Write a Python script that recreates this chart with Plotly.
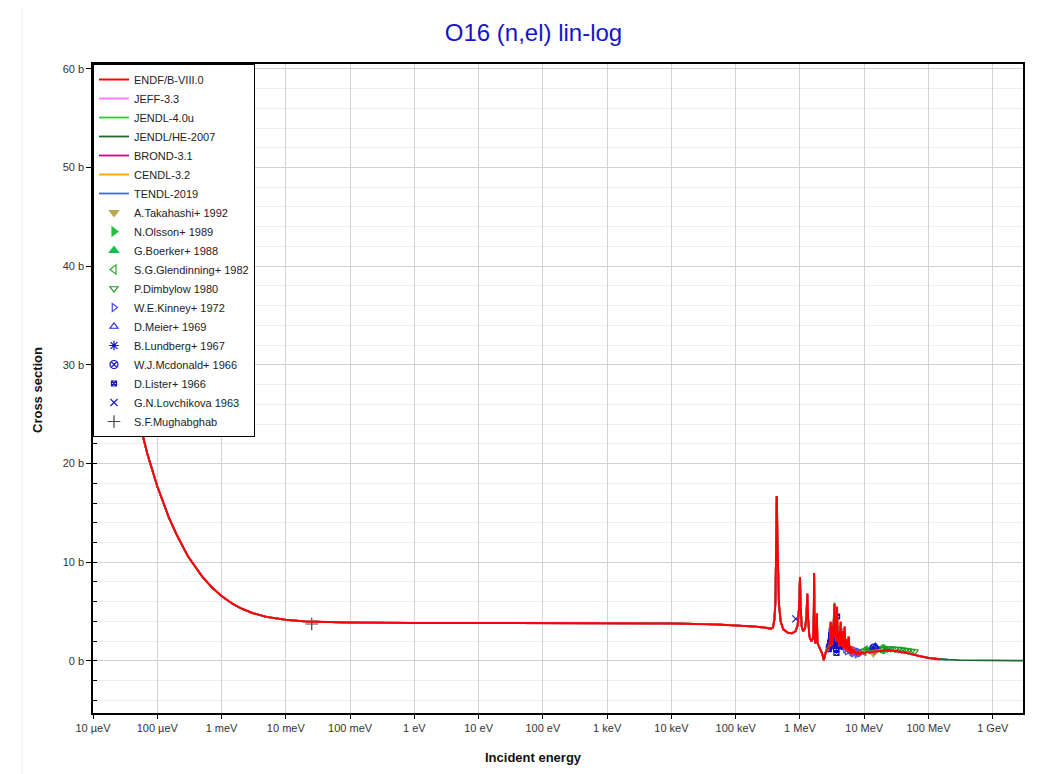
import plotly.graph_objects as go

# ---------------- evaluated cross sections (energy in eV, cross section in barn) -------------
# shared part (all libraries agree below ~2.3 MeV)
E_low = [1e-5, 1.5e-5, 2e-5, 3e-5, 5e-5, 7e-5, 1e-4, 1.5e-4, 2e-4, 3e-4, 5e-4, 7e-4,
         1e-3, 1.5e-3, 2e-3, 3e-3, 5e-3, 7e-3, 1e-2, 2e-2, 5e-2, 0.1, 1, 10, 100, 1e3,
         1e4, 5e4, 1e5, 2e5, 3e5, 3.5e5, 3.8e5, 4e5, 4.15e5, 4.25e5, 4.32e5, 4.35e5,
         4.38e5, 4.45e5, 4.55e5, 4.7e5, 5e5, 5.5e5, 6.5e5, 7.5e5, 8.5e5, 9.2e5, 9.7e5,
         1.0e6, 1.02e6, 1.06e6, 1.12e6, 1.2e6, 1.26e6, 1.3e6, 1.34e6, 1.4e6, 1.5e6,
         1.6e6, 1.64e6, 1.66e6, 1.68e6, 1.72e6, 1.8e6, 1.83e6, 1.87e6, 2.0e6, 2.2e6]
sig_low = [55.0, 44.9, 39.0, 31.9, 24.8, 21.0, 17.7, 14.6, 12.8, 10.6, 8.55, 7.48,
           6.57, 5.77, 5.33, 4.86, 4.46, 4.29, 4.16, 4.00, 3.91, 3.88, 3.85, 3.85, 3.85, 3.84,
           3.80, 3.70, 3.62, 3.48, 3.35, 3.25, 3.4, 4.2, 6.0, 10.5, 15.5, 16.7,
           16.0, 12.5, 8.5, 5.8, 4.0, 3.2, 2.85, 2.8, 3.0, 3.6, 5.5,
           8.5, 6.0, 3.5, 3.0, 3.3, 4.5, 6.8, 4.2, 2.5, 2.0,
           2.3, 5.0, 8.9, 4.0, 1.8, 2.0, 4.8, 1.8, 1.4, 0.8]

# 2.35 - 20 MeV region, per library
E_mid = [2.35e6, 2.5e6, 2.7e6, 2.9e6, 3.0e6, 3.1e6, 3.2e6, 3.25e6, 3.44e6, 3.5e6, 3.6e6,
         3.7e6, 3.77e6, 3.85e6, 4.0e6, 4.1e6, 4.3e6, 4.4e6, 4.55e6, 4.7e6, 4.95e6, 5.1e6,
         5.3e6, 5.5e6, 5.7e6, 6.0e6, 6.3e6, 6.6e6, 7.0e6, 7.5e6, 8.0e6, 8.5e6, 9.0e6,
         1e7, 1.1e7, 1.2e7, 1.4e7, 1.7e7, 2e7]
sig_mid_endf = [0.07, 0.8, 1.2, 1.5, 4.0, 1.6, 3.5, 1.8, 5.8, 2.4, 4.5, 2.0, 5.5, 2.0,
                3.0, 1.5, 4.0, 1.5, 3.0, 1.3, 3.5, 1.1, 2.2, 0.9, 2.5, 0.7, 1.5, 0.7,
                1.2, 0.6, 1.0, 0.6, 0.9, 0.75, 0.95, 0.85, 0.95, 1.0, 1.05]
sig_mid_jeff = [0.07, 0.8, 1.2, 1.5, 3.8, 1.6, 3.5, 1.8, 5.6, 2.4, 4.4, 2.0, 5.4, 2.0,
                3.0, 1.5, 3.9, 1.5, 3.0, 1.3, 3.4, 1.1, 2.2, 0.9, 2.4, 0.7, 1.5, 0.7,
                1.2, 0.6, 1.0, 0.6, 0.9, 0.75, 0.95, 0.85, 0.95, 1.0, 1.05]
sig_mid_jendl = [0.1, 0.9, 1.3, 1.6, 3.6, 1.8, 3.3, 2.0, 5.9, 2.6, 4.3, 2.2, 5.1, 2.2,
                 2.9, 1.7, 3.6, 1.6, 2.9, 1.4, 3.1, 1.2, 2.1, 1.0, 2.1, 0.9, 1.4, 0.8,
                 1.1, 0.8, 1.0, 0.8, 0.95, 0.85, 1.0, 0.95, 1.05, 1.1, 1.15]
sig_mid_jendlhe = [0.1, 0.9, 1.3, 1.6, 3.6, 1.8, 3.3, 2.0, 5.9, 2.6, 4.3, 2.2, 5.1, 2.2,
                   2.9, 1.7, 3.6, 1.6, 2.9, 1.4, 3.1, 1.2, 2.1, 1.0, 2.1, 0.9, 1.4, 0.8,
                   1.1, 0.8, 1.0, 0.8, 0.95, 0.85, 1.0, 0.95, 1.05, 1.1, 1.15]
sig_mid_brond = [0.08, 0.8, 1.2, 1.5, 3.9, 1.6, 3.4, 1.8, 5.7, 2.4, 4.4, 2.0, 5.4, 2.0,
                 3.0, 1.5, 3.9, 1.5, 3.0, 1.3, 3.4, 1.1, 2.2, 0.9, 2.4, 0.7, 1.5, 0.7,
                 1.2, 0.6, 1.0, 0.6, 0.9, 0.75, 0.95, 0.85, 0.95, 1.0, 1.05]
sig_mid_cendl = [0.08, 0.8, 1.2, 1.5, 3.9, 1.6, 3.4, 1.8, 5.7, 2.4, 4.4, 2.0, 5.4, 2.0,
                 3.0, 1.5, 3.9, 1.5, 3.0, 1.3, 3.4, 1.1, 2.2, 0.9, 2.4, 0.7, 1.5, 0.7,
                 1.2, 0.6, 1.0, 0.6, 0.9, 0.75, 0.95, 0.85, 0.95, 1.0, 1.05]
sig_mid_tendl = [0.1, 0.8, 1.2, 1.5, 3.7, 1.7, 3.4, 1.9, 5.5, 2.5, 4.3, 2.1, 5.2, 2.1,
                 2.9, 1.6, 3.8, 1.6, 2.9, 1.4, 3.3, 1.2, 2.1, 1.0, 2.3, 0.8, 1.4, 0.8,
                 1.1, 0.7, 1.0, 0.7, 0.9, 0.8, 0.95, 0.9, 1.0, 1.05, 1.1]

# high-energy tails
E_tail_endf = [2.5e7, 3e7, 4e7, 5e7, 7e7, 1e8, 1.5e8]
sig_tail_endf = [1.05, 1.0, 0.9, 0.75, 0.5, 0.3, 0.15]
E_tail_jeff = [2.5e7, 3e7, 4e7, 5e7, 7e7, 1e8, 1.5e8]
sig_tail_jeff = [1.05, 1.0, 0.9, 0.75, 0.5, 0.3, 0.15]
E_tail_jendlhe = [2.5e7, 3e7, 4e7, 5e7, 7e7, 1e8, 1.5e8, 2e8, 3e8, 5e8, 1e9, 2e9, 3e9]
sig_tail_jendlhe = [1.1, 1.05, 0.95, 0.8, 0.52, 0.32, 0.18, 0.12, 0.08, 0.06, 0.04, 0.03, 0.03]
E_tail_tendl = [2.5e7, 3e7, 4e7, 5e7, 7e7, 1e8, 1.5e8, 2e8]
sig_tail_tendl = [1.05, 1.0, 0.9, 0.75, 0.5, 0.3, 0.16, 0.12]

# ---------------- experimental data ----------------
E_takahashi = [1.39e7]
s_takahashi = [0.8]
E_olsson = [2.16e7]
s_olsson = [1.2]
E_boerker = [1.1e7, 1.3e7]
s_boerker = [1.1, 1.15]
E_glendinning = [9.9e6, 1.39e7, 1.83e7]
s_glendinning = [1.0, 1.15, 1.2]
E_dimbylow = [1.0e7, 1.2e7, 1.4e7, 1.6e7, 1.8e7, 2.0e7, 2.3e7, 2.6e7, 3.0e7, 3.4e7,
              3.8e7, 4.3e7, 4.8e7, 5.4e7, 6.0e7]
s_dimbylow = [1.0, 1.1, 1.15, 1.2, 1.2, 1.25, 1.25, 1.25, 1.2, 1.2, 1.15, 1.1, 1.05, 1.0, 0.95]
E_kinney = [4.34e6, 4.8e6, 5.1e6, 5.4e6, 5.9e6, 6.4e6, 6.8e6, 7.3e6, 7.7e6, 8.1e6, 8.6e6]
s_kinney = [1.6, 1.5, 1.2, 1.0, 1.1, 0.9, 0.8, 1.0, 0.7, 0.9, 0.8]
E_meier = [1.45e7, 1.5e7]
s_meier = [1.35, 1.45]
E_lundberg = [3.3e6, 4.4e6]
s_lundberg = [2.0, 1.6]
E_mcdonald = [1.41e7]
s_mcdonald = [1.3]
E_lister = [2.8e6, 2.85e6, 2.9e6, 2.95e6, 3.0e6, 3.05e6, 3.1e6, 3.15e6, 3.2e6, 3.25e6,
            3.3e6, 3.35e6, 3.4e6, 3.45e6, 3.5e6, 3.55e6, 3.6e6, 3.65e6, 3.7e6, 3.75e6,
            3.78e6, 3.82e6, 3.85e6, 3.9e6, 3.95e6, 4.0e6, 4.05e6, 4.1e6, 4.15e6, 4.2e6]
s_lister = [1.2, 1.4, 1.5, 1.8, 2.0, 2.6, 3.0, 2.2, 1.8, 2.2, 2.5, 3.0, 3.5, 3.3, 3.2,
            2.6, 2.0, 1.2, 0.8, 2.0, 4.5, 3.2, 2.5, 1.8, 1.5, 2.0, 2.6, 3.0, 2.2, 1.5]
E_lovchikova = [8.6e5]
s_lovchikova = [4.26]
E_mughabghab = [0.0253]
s_mughabghab = [3.74]

# ---------------- figure ----------------
fig = go.Figure()

libraries = [
    ("ENDF/B-VIII.0", E_low + E_mid + E_tail_endf, sig_low + sig_mid_endf + sig_tail_endf, "#ff0000"),
    ("JEFF-3.3", E_low + E_mid + E_tail_jeff, sig_low + sig_mid_jeff + sig_tail_jeff, "#ff77ff"),
    ("JENDL-4.0u", E_low + E_mid, sig_low + sig_mid_jendl, "#33cc33"),
    ("JENDL/HE-2007", E_low + E_mid + E_tail_jendlhe, sig_low + sig_mid_jendlhe + sig_tail_jendlhe, "#1d6b2a"),
    ("BROND-3.1", E_low + E_mid, sig_low + sig_mid_brond, "#cc0099"),
    ("CENDL-3.2", E_low + E_mid, sig_low + sig_mid_cendl, "#ffa500"),
    ("TENDL-2019", E_low + E_mid + E_tail_tendl, sig_low + sig_mid_tendl + sig_tail_tendl, "#4169e1"),
]

experiments = [
    ("A.Takahashi+ 1992", E_takahashi, s_takahashi, "triangle-down", "#b5a84e", 8),
    ("N.Olsson+ 1989", E_olsson, s_olsson, "triangle-right", "#1ec23c", 8),
    ("G.Boerker+ 1988", E_boerker, s_boerker, "triangle-up", "#22b84a", 8),
    ("S.G.Glendinning+ 1982", E_glendinning, s_glendinning, "triangle-left-open", "#2aa52a", 8),
    ("P.Dimbylow 1980", E_dimbylow, s_dimbylow, "triangle-down-open", "#1e9a1e", 7),
    ("W.E.Kinney+ 1972", E_kinney, s_kinney, "triangle-right-open", "#4a4aff", 7),
    ("D.Meier+ 1969", E_meier, s_meier, "triangle-up-open", "#2a2ae0", 7),
    ("B.Lundberg+ 1967", E_lundberg, s_lundberg, "asterisk-open", "#1010d0", 8),
    ("W.J.Mcdonald+ 1966", E_mcdonald, s_mcdonald, "circle-x-open", "#1010c8", 8),
    ("D.Lister+ 1966", E_lister, s_lister, "square-x-open", "#1010c0", 5),
    ("G.N.Lovchikova 1963", E_lovchikova, s_lovchikova, "x-thin-open", "#1a1ac8", 7),
    ("S.F.Mughabghab", E_mughabghab, s_mughabghab, "cross-thin-open", "#444444", 9),
]

for i, (name, x, y, sym, col, sz) in enumerate(experiments):
    fig.add_trace(go.Scatter(
        x=x, y=y, mode="markers", name=name, legendrank=200 + i,
        marker=dict(symbol=sym, size=sz, color=col, line=dict(color=col, width=1.2)),
    ))

# evaluated curves: draw ENDF last so it lies on top
for i, (name, x, y, col) in reversed(list(enumerate(libraries))):
    fig.add_trace(go.Scatter(
        x=x, y=y, mode="lines", name=name, legendrank=100 + i,
        line=dict(color=col, width=2 if i == 0 else 1.8),
    ))

x_tickvals = [1e-5, 1e-4, 1e-3, 1e-2, 1e-1, 1, 10, 100, 1e3, 1e4, 1e5, 1e6, 1e7, 1e8, 1e9]
x_ticktext = ["10 µeV", "100 µeV", "1 meV", "10 meV", "100 meV", "1 eV", "10 eV", "100 eV",
              "1 keV", "10 keV", "100 keV", "1 MeV", "10 MeV", "100 MeV", "1 GeV"]
x_range = [-5, 9.47]
y_range = [-5.28, 60.49]

font_fam = "Liberation Sans, Arial, sans-serif"

# page is offset by the 8px body margin, so the figure is 8px smaller than the window
W, H = 1038, 766
PL, PR, PT, PB = 93, 1023, 64, 713   # plot area in page pixels


def px_x(X):
    return (X - PL) / (PR - PL)


def px_y(Y):
    return (PB - Y) / (PB - PT)


fig.update_layout(
    width=W, height=H,
    margin=dict(l=PL - 8, r=8 + W - PR, t=PT - 8, b=8 + H - PB),
    paper_bgcolor="white", plot_bgcolor="white",
    font=dict(family=font_fam, size=11, color="#333333"),
    title=dict(text="O16 (n,el) lin-log", x=(533.5 - 8) / W, xanchor="center", xref="container",
               y=(8 + H - 33) / H, yanchor="middle", yref="container",
               font=dict(family=font_fam, size=24, color="#1414c8")),
    showlegend=True,
    legend=dict(x=0.0, y=1.0, xanchor="left", yanchor="top", bgcolor="white",
                bordercolor="black", borderwidth=1, font=dict(size=11, color="#222222"),
                itemwidth=30, tracegroupgap=0),
    xaxis=dict(type="log", range=x_range, tickvals=x_tickvals, ticktext=x_ticktext,
               showgrid=True, gridcolor="#d2d2d2", gridwidth=1,
               ticks="outside", ticklen=4, tickcolor="black",
               showline=True, linecolor="black", linewidth=1.5, mirror=True,
               zeroline=False, tickfont=dict(size=11, color="#333333")),
    xaxis2=dict(type="log", range=x_range, tickvals=x_tickvals, overlaying="x", side="top",
                anchor="y", ticks="inside", ticklen=5, tickcolor="black",
                showticklabels=False, showgrid=False, showline=False, zeroline=False),
    xaxis3=dict(type="log", range=x_range, tickvals=x_tickvals, overlaying="x", side="bottom",
                anchor="y", ticks="inside", ticklen=4, tickcolor="black",
                showticklabels=False, showgrid=False, showline=False, zeroline=False),
    yaxis=dict(range=y_range, tick0=0, dtick=10, ticksuffix=" b",
               showgrid=True, gridcolor="#d2d2d2", gridwidth=1,
               ticks="outside", ticklen=5, tickcolor="black",
               minor=dict(dtick=2, tick0=0, ticks="inside", ticklen=4, tickcolor="black",
                          showgrid=True, gridcolor="#efefef"),
               showline=True, linecolor="black", linewidth=1.5, mirror=True,
               zeroline=False, tickfont=dict(size=11, color="#333333")),
    yaxis2=dict(range=y_range, tick0=0, dtick=10, overlaying="y", side="right", anchor="x",
                ticks="inside", ticklen=5, tickcolor="black",
                minor=dict(dtick=2, tick0=0, ticks="inside", ticklen=4, tickcolor="black",
                           showgrid=False),
                showticklabels=False, showgrid=False, showline=False, zeroline=False),
    shapes=[
        dict(type="rect", xref="paper", yref="paper", layer="below",
             x0=px_x(22), x1=px_x(1040), y0=px_y(790), y1=px_y(5),
             line=dict(color="#ececec", width=1), fillcolor="rgba(0,0,0,0)"),
    ],
    annotations=[
        dict(text="<b>Incident energy</b>", xref="paper", yref="paper",
             x=px_x(533), y=px_y(757), xanchor="center", yanchor="middle",
             showarrow=False, font=dict(size=13, color="#111111")),
        dict(text="<b>Cross section</b>", xref="paper", yref="paper",
             x=px_x(37), y=px_y(390), xanchor="center", yanchor="middle",
             textangle=-90, showarrow=False, font=dict(size=13, color="#111111")),
    ],
)

fig.write_html("out.html")
